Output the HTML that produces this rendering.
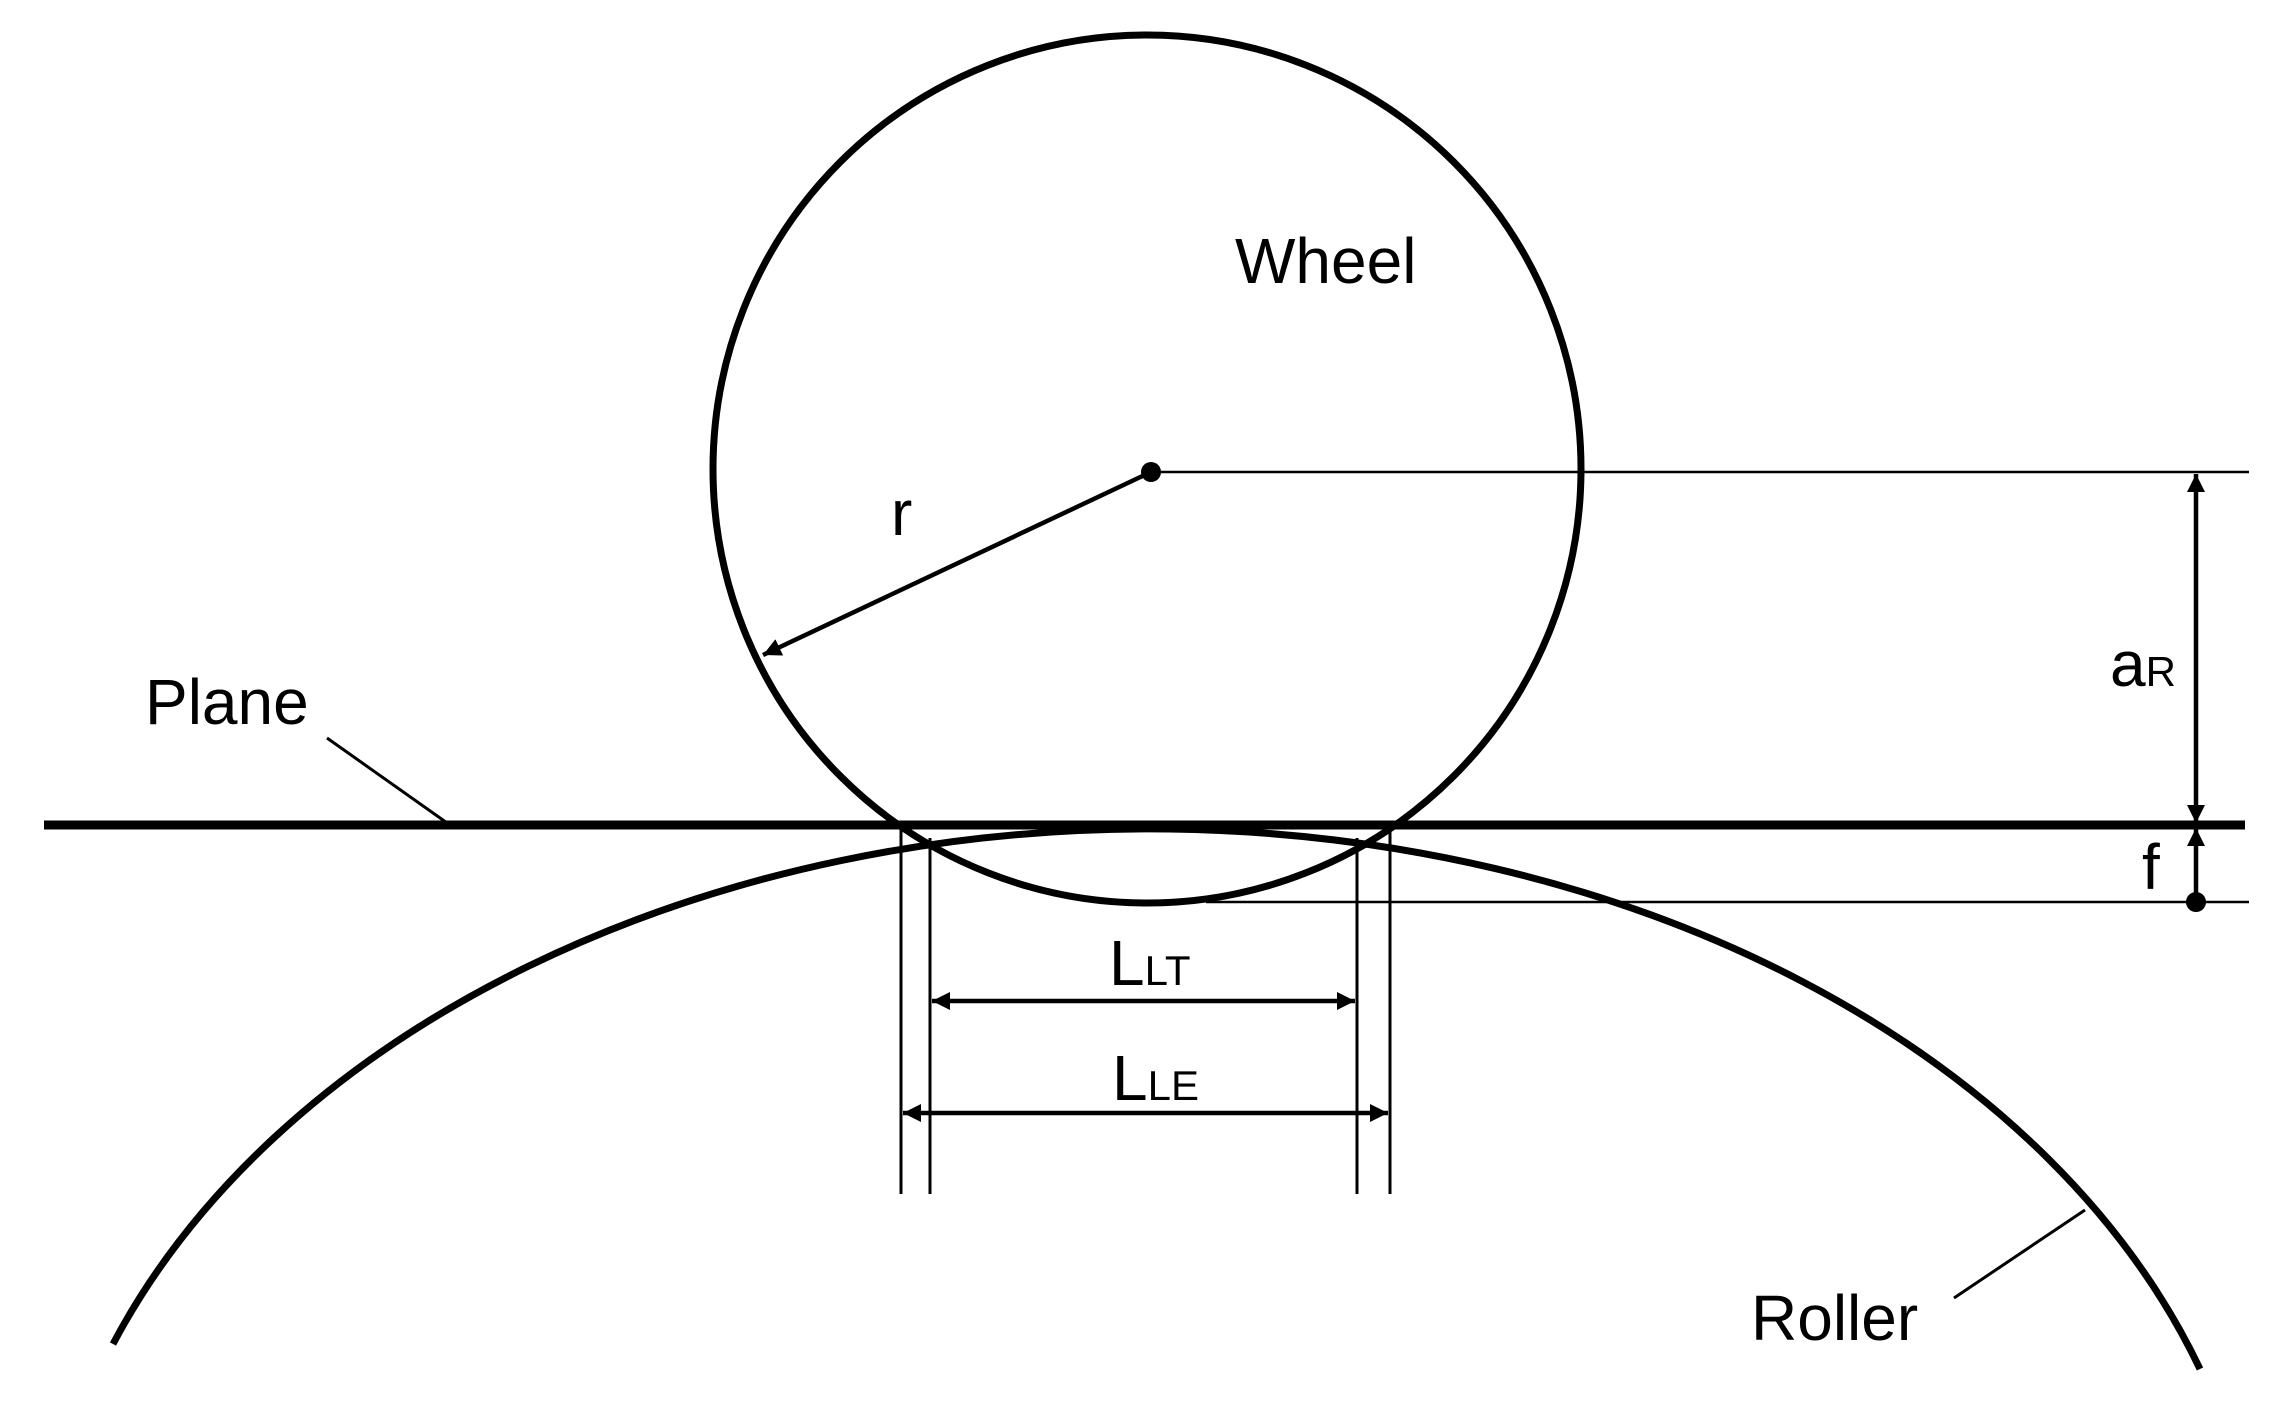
<!DOCTYPE html>
<html><head><meta charset="utf-8"><style>
html,body{margin:0;padding:0;background:#fff;overflow:hidden;}
svg{display:block;}
text{font-family:"Liberation Sans",sans-serif;fill:#000;}
</style></head><body>
<svg width="2278" height="1404" viewBox="0 0 2278 1404" xmlns="http://www.w3.org/2000/svg">
<defs>
<marker id="ah" viewBox="0 0 10 10" refX="10" refY="5" markerWidth="4" markerHeight="4" orient="auto-start-reverse" markerUnits="strokeWidth">
<path d="M0,0 L10,5 L0,10 z" fill="#000"/>
</marker>
</defs>
<!-- wheel -->
<circle cx="1147" cy="469" r="434" fill="none" stroke="#000" stroke-width="7"/>
<!-- roller -->
<path d="M113,1344 A1110,800 0 0 1 2200,1369" fill="none" stroke="#000" stroke-width="7"/>
<!-- plane -->
<line x1="44" y1="825" x2="2245" y2="825" stroke="#000" stroke-width="9"/>
<!-- center lines -->
<line x1="1151" y1="472" x2="2249" y2="472" stroke="#000" stroke-width="2.5"/>
<line x1="1206" y1="902" x2="2249" y2="902" stroke="#000" stroke-width="2.5"/>
<circle cx="1151" cy="472" r="10" fill="#000"/>
<!-- radius -->
<line x1="1151" y1="472" x2="763" y2="655" stroke="#000" stroke-width="4.5" marker-end="url(#ah)"/>
<!-- a_R dimension -->
<line x1="2196" y1="474" x2="2196" y2="823" stroke="#000" stroke-width="4.5" marker-start="url(#ah)" marker-end="url(#ah)"/>
<line x1="2196" y1="828" x2="2196" y2="902" stroke="#000" stroke-width="4.5" marker-start="url(#ah)"/>
<circle cx="2196" cy="902" r="10" fill="#000"/>
<!-- extension lines -->
<line x1="901" y1="825" x2="901" y2="1194" stroke="#000" stroke-width="3"/>
<line x1="930" y1="838" x2="930" y2="1194" stroke="#000" stroke-width="3"/>
<line x1="1357" y1="838" x2="1357" y2="1194" stroke="#000" stroke-width="3"/>
<line x1="1390" y1="825" x2="1390" y2="1194" stroke="#000" stroke-width="3"/>
<!-- L dims -->
<line x1="932" y1="1001" x2="1355" y2="1001" stroke="#000" stroke-width="4.5" marker-start="url(#ah)" marker-end="url(#ah)"/>
<line x1="903" y1="1113" x2="1388" y2="1113" stroke="#000" stroke-width="4.5" marker-start="url(#ah)" marker-end="url(#ah)"/>
<!-- leaders -->
<line x1="327" y1="738" x2="450" y2="825" stroke="#000" stroke-width="3"/>
<line x1="1954" y1="1298" x2="2085" y2="1210" stroke="#000" stroke-width="3"/>
<!-- labels -->
<text x="1235" y="283" font-size="64">Wheel</text>
<text x="891" y="535" font-size="64">r</text>
<text x="145" y="724" font-size="64">Plane</text>
<text x="1751" y="1340" font-size="64">Roller</text>
<text x="2110" y="686" font-size="64">a<tspan font-size="42">R</tspan></text>
<text x="2142" y="889" font-size="64">f</text>
<text x="1109" y="985" font-size="64">L<tspan font-size="42">LT</tspan></text>
<text x="1112" y="1100" font-size="64">L<tspan font-size="42">LE</tspan></text>
</svg>
</body></html>
